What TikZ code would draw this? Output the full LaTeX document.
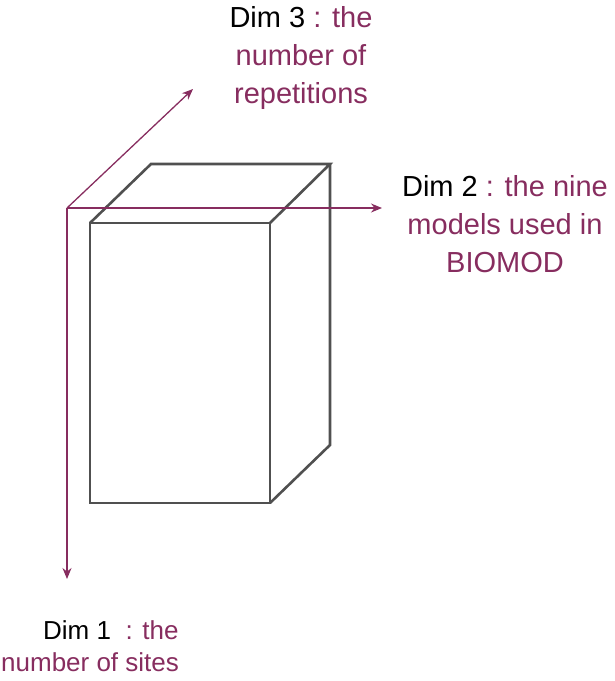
\documentclass[tikz,border=0pt]{standalone}
\usepackage{fontspec}
\setmainfont{Liberation Sans}
\usetikzlibrary{arrows.meta}

\definecolor{dimpurple}{RGB}{135,45,95}
\definecolor{boxgray}{RGB}{80,80,80}

\tikzset{
  axis/.style={draw=dimpurple, line width=1.3pt, -{Stealth[length=11pt,width=9pt]}},
  boxline/.style={draw=boxgray, line width=2.6pt, line join=miter},
  dimlabel/.style={inner sep=0pt, text=dimpurple, font=\fontsize{29}{38}\selectfont}
}

\begin{document}
\begin{tikzpicture}[x=1pt,y=-1pt]
\useasboundingbox (0,0) rectangle (614,681);

% ---------- the box ----------
\coordinate (f1) at (90,223);
\coordinate (f2) at (270,223);
\coordinate (f3) at (270,503);
\coordinate (f4) at (90,503);
\coordinate (b1) at (151,164);
\coordinate (b2) at (330,164);
\coordinate (b3) at (330,445);

\draw[boxline] (f1) -- (f2) -- (f3) -- (f4) -- cycle;
\draw[boxline] (f1) -- (b1) -- (b2) -- (f2);
\draw[boxline] (b2) -- (b3) -- (f3);

% ---------- axes ----------
\coordinate (O) at (67,208);
\coordinate (d1) at (67,579);
\coordinate (d2) at (382,208);
\coordinate (d3) at (193,89);

\draw[axis] (O) -- (d1);
\draw[axis] (O) -- (d2);
\draw[axis] (O) -- (d3);

% ---------- labels ----------
\node[dimlabel, anchor=north, align=center] (dim3) at (301,6)
  {\textcolor{black}{Dim 3} : the\\number of\\repetitions};

\node[dimlabel, anchor=north, align=center] (dim2) at (505,175)
  {\textcolor{black}{Dim 2} : the nine\\models used in\\BIOMOD};

\node[dimlabel, anchor=north west, align=left,
      font=\fontsize{26}{32}\selectfont] (dim1) at (1,620)
  {\hspace*{42pt}\textcolor{black}{Dim 1}\ \ : the\\number of sites};

\end{tikzpicture}
\end{document}
